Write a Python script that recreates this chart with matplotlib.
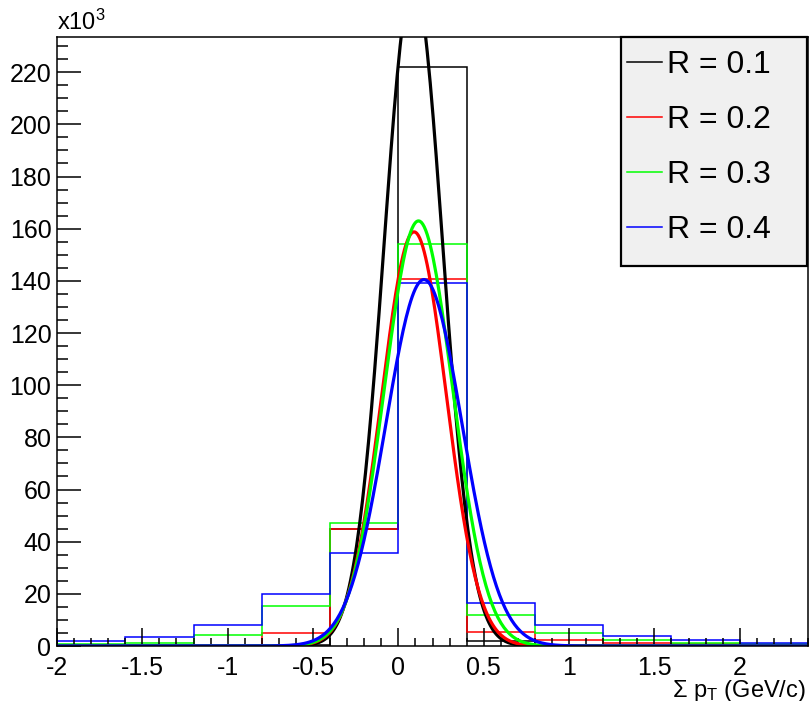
import numpy as np
import matplotlib
matplotlib.use("Agg")
import matplotlib.pyplot as plt
from matplotlib.patches import Rectangle
from matplotlib.ticker import MultipleLocator, FixedLocator, FixedFormatter

plt.rcParams['font.family'] = ['Liberation Sans', 'DejaVu Sans']
plt.rcParams['mathtext.default'] = 'regular'

# bin edges (GeV/c) and counts per bin for each cone radius
edges = [-2.0, -1.6, -1.2, -0.8, -0.4, 0.0, 0.4, 0.8, 1.2, 1.6, 2.0, 2.4]
counts_r01 = [100, 100, 100, 200, 45000, 222000, 2000, 300, 100, 100, 100]
counts_r02 = [200, 300, 500, 5100, 45000, 140800, 5500, 2300, 1300, 900, 500]
counts_r03 = [700, 1300, 4200, 15500, 47000, 154000, 11900, 5100, 2300, 1300, 800]
counts_r04 = [1900, 3600, 7900, 19900, 35500, 139000, 16600, 8000, 3800, 2200, 1200]

# gaussian fit parameters
fit_amp = [255000, 158800, 163000, 140500]
fit_mean = [0.088, 0.092, 0.118, 0.150]
fit_sigma = [0.171, 0.189, 0.200, 0.223]

labels = ['R = 0.1', 'R = 0.2', 'R = 0.3', 'R = 0.4']
colors = ['#000000', '#ff0000', '#00ff00', '#0000ff']

x_ticks = [-2, -1.5, -1, -0.5, 0, 0.5, 1, 1.5, 2]
x_ticklabels = ['-2', '-1.5', '-1', '-0.5', '0', '0.5', '1', '1.5', '2']
y_ticks = list(range(0, 220001, 20000))
y_ticklabels = [str(v // 1000) for v in y_ticks]

fig = plt.figure(figsize=(8.09, 7.01), dpi=100)
ax = fig.add_axes([57 / 809, 55 / 701, 751 / 809, 609 / 701])

all_counts = [counts_r01, counts_r02, counts_r03, counts_r04]
handles = []
for c, col, lab in zip(all_counts, colors, labels):
    h = ax.stairs(c, edges, color=col, lw=1.1, baseline=0, label=lab)
    handles.append(h)

xs = np.linspace(-2.0, 2.4, 500)
for a, m, s, col in zip(fit_amp, fit_mean, fit_sigma, colors):
    ax.plot(xs, a * np.exp(-0.5 * ((xs - m) / s) ** 2), color=col, lw=2.3)

ax.set_xlim(-2.0, 2.4)
ax.set_ylim(0, 233500)

ax.xaxis.set_major_locator(FixedLocator(x_ticks))
ax.xaxis.set_major_formatter(FixedFormatter(x_ticklabels))
ax.xaxis.set_minor_locator(MultipleLocator(0.1))
ax.yaxis.set_major_locator(FixedLocator(y_ticks))
ax.yaxis.set_major_formatter(FixedFormatter(y_ticklabels))
ax.yaxis.set_minor_locator(MultipleLocator(5000))

ax.tick_params(axis='both', which='both', direction='in', top=False, right=False,
               labelsize=18, width=1.1, colors='black')
ax.tick_params(axis='y', which='major', length=17, pad=4)
ax.tick_params(axis='y', which='minor', length=8)
ax.tick_params(axis='x', which='major', length=13, pad=7)
ax.tick_params(axis='x', which='minor', length=6)
for sp in ax.spines.values():
    sp.set_linewidth(1.1)

ax.text(0.0, 1.004, r'x10$^{3}$', transform=ax.transAxes, fontsize=17,
        ha='left', va='bottom')
ax.text(0.997, -0.052, r'$\Sigma$ p$_{T}$ (GeV/c)', transform=ax.transAxes,
        fontsize=17, ha='right', va='top')

# title sits mostly above the canvas, as in the original
fig.text(0.5, 1.0 + 8 / 701, r'Sum p$_{T}$ of the background in cone (R, p$_{T}$)',
         fontsize=26, ha='center', va='baseline')

# legend box
ax.add_patch(Rectangle((0.7515, 0.624), 0.2475, 0.376, transform=ax.transAxes,
                       facecolor='#f0f0f0', edgecolor='black', lw=1.6,
                       zorder=4, clip_on=False))
ax.legend(handles=handles, loc='upper left', bbox_to_anchor=(0.759, 0.978),
          borderaxespad=0, borderpad=0, fontsize=23, handlelength=1.1,
          handletextpad=0.15, labelspacing=0.78, frameon=False)

fig.savefig('out.png', dpi=100)
